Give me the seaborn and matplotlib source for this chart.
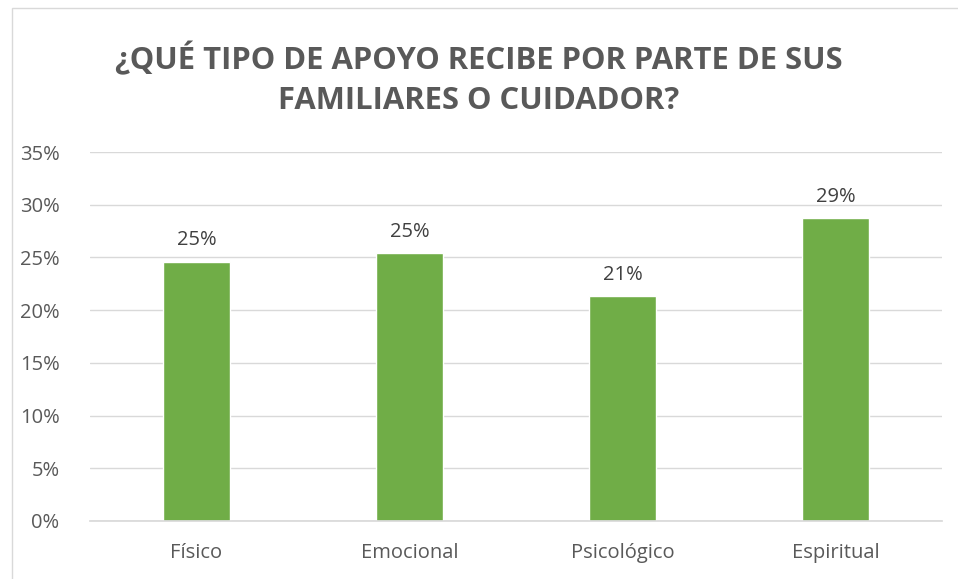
import pandas as pd
import seaborn as sns
import matplotlib.pyplot as plt
from matplotlib.patches import Rectangle
from matplotlib.ticker import PercentFormatter

categories = ["Físico", "Emocional", "Psicológico", "Espiritual"]
values = [24.6, 25.4, 21.3, 28.7]
title = "¿QUÉ TIPO DE APOYO RECIBE POR PARTE DE SUS\nFAMILIARES O CUIDADOR?"

df = pd.DataFrame({"tipo": categories, "pct": values})

sns.set_theme(style="white")
plt.rcParams['font.family'] = ['Open Sans', 'DejaVu Sans']

fig = plt.figure(figsize=(9.58, 5.79), dpi=100)
ax = fig.add_axes([90 / 958, 1 - 521 / 579, 852 / 958, 369 / 579])

sns.barplot(data=df, x="tipo", y="pct", color="#70AD47", width=0.315,
            saturation=1, ax=ax)

for i, v in enumerate(values):
    ax.text(i, v + 1.1, f"{v:.0f}%", ha="center", va="bottom",
            fontsize=14.5, color="#404040")

ax.set_ylim(0, 35)
ax.set_yticks(range(0, 36, 5))
ax.yaxis.set_major_formatter(PercentFormatter(decimals=0))
ax.grid(axis="y", color="#D9D9D9", linewidth=1)
ax.set_axisbelow(True)
for s in ["top", "right", "left"]:
    ax.spines[s].set_visible(False)
ax.spines["bottom"].set_color("#D9D9D9")
ax.tick_params(axis="both", labelsize=14.5, labelcolor="#595959", length=0)
ax.tick_params(axis="x", pad=16)
ax.tick_params(axis="y", pad=22)
ax.set_xlabel("")
ax.set_ylabel("")

fig.text(0.5, 1 - 79 / 579, title, ha="center", va="center", fontsize=22.3,
         fontweight="bold", color="#595959", linespacing=1.45)

fig.patches.append(Rectangle((12 / 958, -0.01), 1, 1 - 8 / 579 + 0.01,
                             transform=fig.transFigure, fill=False,
                             edgecolor="#D9D9D9", linewidth=1))

fig.savefig("out.png", dpi=100)
